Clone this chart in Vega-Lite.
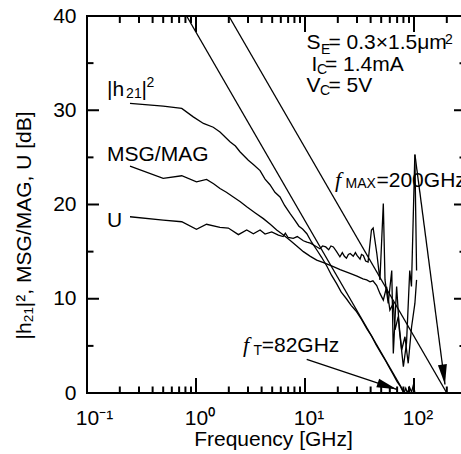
{
"$schema": "https://vega.github.io/schema/vega-lite/v6.json",
"width": 379, "height": 377,
"autosize": "none",
"padding": {"left": 87, "top": 16, "right": -5, "bottom": 61},
"background": "white",
"config": {
  "view": {"stroke": "black", "strokeWidth": 2},
  "axis": {"grid": false, "domain": false, "labelFont": "Liberation Sans", "labelFontSize": 21, "labelColor": "black", "titleFont": "Liberation Sans", "titleFontSize": 21, "titleFontWeight": "normal", "titleColor": "black"}
},
"datasets": {
  "curves": [
    {"s":"h21","f":0.248,"db":30.72},{"s":"h21","f":0.5,"db":30.43},{"s":"h21","f":0.74,"db":30.19},{"s":"h21","f":0.944,"db":29.3},{"s":"h21","f":1.17,"db":28.6},{"s":"h21","f":1.44,"db":28.2},{"s":"h21","f":1.66,"db":27.7},{"s":"h21","f":2.05,"db":26.65},{"s":"h21","f":2.3,"db":26.2},{"s":"h21","f":2.53,"db":25.6},{"s":"h21","f":3.02,"db":24.7},{"s":"h21","f":3.4,"db":24.2},{"s":"h21","f":3.87,"db":23.6},{"s":"h21","f":4.3,"db":22.7},{"s":"h21","f":4.77,"db":22.1},{"s":"h21","f":5.3,"db":21.3},{"s":"h21","f":5.9,"db":20.8},{"s":"h21","f":6.5,"db":19.9},{"s":"h21","f":7.28,"db":19.05},{"s":"h21","f":8.0,"db":18.4},{"s":"h21","f":8.8,"db":17.7},{"s":"h21","f":9.5,"db":17.4},{"s":"h21","f":10.4,"db":16.9},{"s":"h21","f":11.5,"db":16.0},{"s":"h21","f":12.8,"db":15.2},{"s":"h21","f":14.2,"db":14.4},{"s":"h21","f":15.8,"db":13.5},{"s":"h21","f":17.5,"db":12.5},{"s":"h21","f":19.5,"db":11.6},{"s":"h21","f":21.5,"db":10.7},{"s":"h21","f":24,"db":10.0},{"s":"h21","f":26.5,"db":9.3},{"s":"h21","f":29.4,"db":8.7},{"s":"h21","f":33,"db":7.8},{"s":"h21","f":37,"db":6.8},{"s":"h21","f":41,"db":6.0},{"s":"h21","f":45,"db":5.1},{"s":"h21","f":50,"db":4.2},{"s":"h21","f":55,"db":3.4},{"s":"h21","f":60,"db":2.6},{"s":"h21","f":65,"db":1.9},{"s":"h21","f":70,"db":1.2},{"s":"h21","f":75,"db":0.7},{"s":"h21","f":78,"db":0.3},{"s":"h21","f":81,"db":0.0},{"s":"h21","f":84,"db":0.5},{"s":"h21","f":87,"db":0.0},{"s":"h21","f":91,"db":0.6},{"s":"h21","f":95,"db":0.1},{"s":"h21","f":99,"db":0.9},{"s":"h21","f":102,"db":0.0},
    {"s":"msg","f":0.248,"db":24.07},{"s":"msg","f":0.5,"db":22.77},{"s":"msg","f":0.74,"db":23.05},{"s":"msg","f":1.01,"db":22.4},{"s":"msg","f":1.25,"db":22.66},{"s":"msg","f":1.45,"db":22.2},{"s":"msg","f":1.66,"db":21.7},{"s":"msg","f":1.9,"db":21.3},{"s":"msg","f":2.2,"db":20.8},{"s":"msg","f":2.55,"db":20.3},{"s":"msg","f":2.92,"db":19.76},{"s":"msg","f":3.5,"db":19.1},{"s":"msg","f":4.15,"db":18.5},{"s":"msg","f":4.8,"db":17.9},{"s":"msg","f":5.5,"db":17.3},{"s":"msg","f":6.3,"db":16.8},{"s":"msg","f":7.28,"db":16.2},{"s":"msg","f":8.4,"db":15.6},{"s":"msg","f":9.66,"db":15.0},{"s":"msg","f":11.2,"db":14.5},{"s":"msg","f":12.8,"db":14.1},{"s":"msg","f":15,"db":13.8},{"s":"msg","f":18.2,"db":13.4},{"s":"msg","f":21,"db":13.1},{"s":"msg","f":25.9,"db":12.7},{"s":"msg","f":30,"db":12.4},{"s":"msg","f":34,"db":12.1},{"s":"msg","f":36.8,"db":12.0},{"s":"msg","f":39.5,"db":11.8},{"s":"msg","f":42,"db":11.9},{"s":"msg","f":45.5,"db":11.4},{"s":"msg","f":48.7,"db":10.57},{"s":"msg","f":52.3,"db":9.86},{"s":"msg","f":56.1,"db":11.27},{"s":"msg","f":60.1,"db":8.8},{"s":"msg","f":64.6,"db":9.5},{"s":"msg","f":67,"db":6.7},{"s":"msg","f":71.7,"db":8.1},{"s":"msg","f":77.1,"db":4.56},{"s":"msg","f":82.6,"db":5.97},{"s":"msg","f":88.5,"db":3.15},{"s":"msg","f":95,"db":7.0},{"s":"msg","f":101.9,"db":9.5},{"s":"msg","f":105.6,"db":12.0},
    {"s":"u","f":0.248,"db":18.7},{"s":"u","f":0.5,"db":18.35},{"s":"u","f":0.74,"db":18.17},{"s":"u","f":1.01,"db":17.36},{"s":"u","f":1.25,"db":17.9},{"s":"u","f":1.66,"db":17.57},{"s":"u","f":1.98,"db":17.5},{"s":"u","f":2.45,"db":16.8},{"s":"u","f":2.92,"db":17.3},{"s":"u","f":3.36,"db":16.9},{"s":"u","f":3.87,"db":17.3},{"s":"u","f":4.3,"db":16.86},{"s":"u","f":4.95,"db":17.1},{"s":"u","f":5.7,"db":16.75},{"s":"u","f":6.3,"db":16.6},{"s":"u","f":6.6,"db":16.95},{"s":"u","f":7.0,"db":16.5},{"s":"u","f":7.8,"db":16.4},{"s":"u","f":8.5,"db":16.6},{"s":"u","f":9.66,"db":16.15},{"s":"u","f":10.4,"db":16.0},{"s":"u","f":11.2,"db":15.9},{"s":"u","f":12.0,"db":15.7},{"s":"u","f":13.7,"db":15.3},{"s":"u","f":14.5,"db":15.6},{"s":"u","f":15.5,"db":15.5},{"s":"u","f":16.5,"db":15.2},{"s":"u","f":17.3,"db":15.6},{"s":"u","f":18.2,"db":15.5},{"s":"u","f":19.5,"db":15.0},{"s":"u","f":20.9,"db":14.45},{"s":"u","f":22,"db":14.9},{"s":"u","f":23,"db":14.5},{"s":"u","f":24,"db":14.3},{"s":"u","f":25,"db":14.7},{"s":"u","f":26,"db":14.8},{"s":"u","f":27.7,"db":14.5},{"s":"u","f":29,"db":14.9},{"s":"u","f":30,"db":14.6},{"s":"u","f":32,"db":14.2},{"s":"u","f":33,"db":14.7},{"s":"u","f":34.3,"db":14.6},{"s":"u","f":36,"db":14.0},{"s":"u","f":37.9,"db":13.9},{"s":"u","f":40.7,"db":17.3},{"s":"u","f":42.2,"db":17.5},{"s":"u","f":45.6,"db":14.8},{"s":"u","f":48.7,"db":12.0},{"s":"u","f":52.3,"db":20.1},{"s":"u","f":54.2,"db":12.0},{"s":"u","f":58,"db":9.5},{"s":"u","f":62.5,"db":13.0},{"s":"u","f":64.6,"db":4.2},{"s":"u","f":69.3,"db":11.3},{"s":"u","f":73.4,"db":6.7},{"s":"u","f":79.9,"db":2.8},{"s":"u","f":85.4,"db":5.3},{"s":"u","f":91.4,"db":13.0},{"s":"u","f":94.8,"db":11.3},{"s":"u","f":101.8,"db":25.3},{"s":"u","f":105.6,"db":13.0},
    {"s":"ft","f":0.82,"db":40},{"s":"ft","f":82,"db":0},
    {"s":"fmax","f":2.0,"db":40},{"s":"fmax","f":200,"db":0}
  ],
  "arrows": [
    {"a":"ft","f":10.37,"db":3.57,"f2":69.4,"db2":0.39},
    {"a":"fmax","f":102,"db":25.3,"f2":192.4,"db2":0.9}
  ],
  "ticks": [
    {"ax":"x","v":0.1,"m":1},{"ax":"x","v":1,"m":1},{"ax":"x","v":10,"m":1},{"ax":"x","v":100,"m":1},
    {"ax":"x","v":0.2,"m":0},{"ax":"x","v":0.3,"m":0},{"ax":"x","v":0.4,"m":0},{"ax":"x","v":0.5,"m":0},{"ax":"x","v":0.6,"m":0},{"ax":"x","v":0.7,"m":0},{"ax":"x","v":0.8,"m":0},{"ax":"x","v":0.9,"m":0},
    {"ax":"x","v":2,"m":0},{"ax":"x","v":3,"m":0},{"ax":"x","v":4,"m":0},{"ax":"x","v":5,"m":0},{"ax":"x","v":6,"m":0},{"ax":"x","v":7,"m":0},{"ax":"x","v":8,"m":0},{"ax":"x","v":9,"m":0},
    {"ax":"x","v":20,"m":0},{"ax":"x","v":30,"m":0},{"ax":"x","v":40,"m":0},{"ax":"x","v":50,"m":0},{"ax":"x","v":60,"m":0},{"ax":"x","v":70,"m":0},{"ax":"x","v":80,"m":0},{"ax":"x","v":90,"m":0},
    {"ax":"x","v":200,"m":0},
    {"ax":"y","v":10,"m":1},{"ax":"y","v":20,"m":1},{"ax":"y","v":30,"m":1},
    {"ax":"y","v":5,"m":0},{"ax":"y","v":15,"m":0},{"ax":"y","v":25,"m":0},{"ax":"y","v":35,"m":0}
  ],
  "notes": [
    {"k":"main","t":"|h","f":0.1526,"db":31.53},
    {"k":"sub","t":"21","f":0.2285,"db":31.28},
    {"k":"main","t":"|","f":0.3160,"db":31.53},
    {"k":"sup","t":"2","f":0.3520,"db":32.45},
    {"k":"main","t":"MSG/MAG","f":0.1526,"db":24.63},
    {"k":"main","t":"U","f":0.1526,"db":17.64},
    {"k":"main","t":"S","f":10.32,"db":36.45},
    {"k":"sub","t":"E","f":14.03,"db":36.02},
    {"k":"main","t":"= 0.3×1.5μm","f":16.43,"db":36.45},
    {"k":"sup","t":"2","f":192.5,"db":37.06},
    {"k":"main","t":"I","f":11.47,"db":34.18},
    {"k":"sub","t":"C","f":12.89,"db":33.83},
    {"k":"main","t":"= 1.4mA","f":15.26,"db":34.18},
    {"k":"main","t":"V","f":10.32,"db":31.95},
    {"k":"sub","t":"C","f":13.73,"db":31.6},
    {"k":"main","t":"= 5V","f":16.43,"db":31.95},
    {"k":"ital","t":"f","f":18.85,"db":21.81},
    {"k":"sub","t":"MAX","f":23.53,"db":21.71},
    {"k":"main","t":"=200GHz","f":45.29,"db":21.81},
    {"k":"ital","t":"f","f":2.699,"db":4.38},
    {"k":"sub","t":"T","f":3.37,"db":4.03},
    {"k":"main","t":"=82GHz","f":4.007,"db":4.38}
  ]
},
"resolve": {"axis": {"x": "independent", "y": "independent"}},
"layer": [
  {
    "data": {"name": "curves"},
    "mark": {"type": "line", "color": "black", "strokeWidth": 1.3, "clip": true},
    "encoding": {
      "x": {"field": "f", "type": "quantitative", "scale": {"type": "log", "domain": [0.1, 300], "nice": false},
        "axis": {"orient": "bottom", "values": [0.1, 1, 10, 100], "ticks": false,
          "labelExpr": "datum.value == 0.1 ? '10⁻¹' : datum.value == 1 ? '10⁰' : datum.value == 10 ? '10¹' : '10²'",
          "labelAlign": "left", "labelOffset": -11.7, "labelBaseline": "alphabetic", "labelPadding": 31.5,
          "labelFlush": false, "labelOverlap": false, "labelBound": false,
          "title": "Frequency [GHz]", "titleBaseline": "alphabetic", "titleAlign": "center", "titleX": 186, "titleY": 52.5}},
      "y": {"field": "db", "type": "quantitative", "scale": {"domain": [0, 40], "nice": false},
        "axis": {"orient": "left", "values": [0, 10, 20, 30, 40], "ticks": false, "labelPadding": 11, "labelBaseline": "middle",
          "title": "|h₂₁|², MSG/MAG, U [dB]", "titleAngle": -90, "titleBaseline": "alphabetic", "titleAlign": "center", "titleX": -56.5, "titleY": 209}},
      "detail": {"field": "s"}
    }
  },
  {
    "data": {"name": "ticks"},
    "transform": [{"filter": "datum.ax == 'x' && datum.m == 1"}],
    "mark": {"type": "rule", "color": "black", "strokeWidth": 2},
    "encoding": {
      "x": {"field": "v", "type": "quantitative", "axis": null},
      "y": {"datum": 0, "type": "quantitative", "axis": null},
      "y2": {"datum": 1.59}
    }
  },
  {
    "data": {"name": "ticks"},
    "transform": [{"filter": "datum.ax == 'x' && datum.m == 0"}],
    "mark": {"type": "rule", "color": "black", "strokeWidth": 2},
    "encoding": {
      "x": {"field": "v", "type": "quantitative", "axis": null},
      "y": {"datum": 0, "type": "quantitative", "axis": null},
      "y2": {"datum": 0.69}
    }
  },
  {
    "data": {"name": "ticks"},
    "transform": [{"filter": "datum.ax == 'x' && datum.m == 1"}],
    "mark": {"type": "rule", "color": "black", "strokeWidth": 2},
    "encoding": {
      "x": {"field": "v", "type": "quantitative", "axis": null},
      "y": {"datum": 40, "type": "quantitative", "axis": null},
      "y2": {"datum": 38.3}
    }
  },
  {
    "data": {"name": "ticks"},
    "transform": [{"filter": "datum.ax == 'x' && datum.m == 0"}],
    "mark": {"type": "rule", "color": "black", "strokeWidth": 2},
    "encoding": {
      "x": {"field": "v", "type": "quantitative", "axis": null},
      "y": {"datum": 40, "type": "quantitative", "axis": null},
      "y2": {"datum": 39.26}
    }
  },
  {
    "data": {"name": "ticks"},
    "transform": [{"filter": "datum.ax == 'y' && datum.m == 1"}],
    "mark": {"type": "rule", "color": "black", "strokeWidth": 2},
    "encoding": {
      "y": {"field": "v", "type": "quantitative", "axis": null},
      "x": {"datum": 0.1, "type": "quantitative", "axis": null},
      "x2": {"datum": 0.1288}
    }
  },
  {
    "data": {"name": "ticks"},
    "transform": [{"filter": "datum.ax == 'y' && datum.m == 0"}],
    "mark": {"type": "rule", "color": "black", "strokeWidth": 2},
    "encoding": {
      "y": {"field": "v", "type": "quantitative", "axis": null},
      "x": {"datum": 0.1, "type": "quantitative", "axis": null},
      "x2": {"datum": 0.1147}
    }
  },
  {
    "data": {"name": "ticks"},
    "transform": [{"filter": "datum.ax == 'y' && datum.m == 1"}],
    "mark": {"type": "rule", "color": "black", "strokeWidth": 2},
    "encoding": {
      "y": {"field": "v", "type": "quantitative", "axis": null},
      "x": {"datum": 300, "type": "quantitative", "axis": null},
      "x2": {"datum": 232.8}
    }
  },
  {
    "data": {"name": "ticks"},
    "transform": [{"filter": "datum.ax == 'y' && datum.m == 0"}],
    "mark": {"type": "rule", "color": "black", "strokeWidth": 2},
    "encoding": {
      "y": {"field": "v", "type": "quantitative", "axis": null},
      "x": {"datum": 300, "type": "quantitative", "axis": null},
      "x2": {"datum": 261.5}
    }
  },
  {
    "data": {"name": "arrows"},
    "mark": {"type": "rule", "color": "black", "strokeWidth": 1.3},
    "encoding": {
      "x": {"field": "f", "type": "quantitative", "axis": null},
      "y": {"field": "db", "type": "quantitative", "axis": null},
      "x2": {"field": "f2"},
      "y2": {"field": "db2"}
    }
  },
  {
    "data": {"name": "arrows"},
    "transform": [{"filter": "datum.a == 'ft'"}],
    "mark": {"type": "point", "shape": "M0,0L-0.36,1.6L0.36,1.6Z", "size": 625, "angle": 108.4, "filled": true, "color": "black", "opacity": 1},
    "encoding": {
      "x": {"field": "f2", "type": "quantitative", "axis": null},
      "y": {"field": "db2", "type": "quantitative", "axis": null}
    }
  },
  {
    "data": {"name": "arrows"},
    "transform": [{"filter": "datum.a == 'fmax'"}],
    "mark": {"type": "point", "shape": "M0,0L-0.36,1.6L0.36,1.6Z", "size": 625, "angle": 172.6, "filled": true, "color": "black", "opacity": 1},
    "encoding": {
      "x": {"field": "f2", "type": "quantitative", "axis": null},
      "y": {"field": "db2", "type": "quantitative", "axis": null}
    }
  },
  {
    "data": {"name": "notes"},
    "transform": [{"filter": "datum.k == 'main'"}],
    "mark": {"type": "text", "font": "Liberation Sans", "fontSize": 21, "align": "left", "baseline": "alphabetic", "color": "black"},
    "encoding": {
      "x": {"field": "f", "type": "quantitative", "axis": null},
      "y": {"field": "db", "type": "quantitative", "axis": null},
      "text": {"field": "t"}
    }
  },
  {
    "data": {"name": "notes"},
    "transform": [{"filter": "datum.k == 'sub' || datum.k == 'sup'"}],
    "mark": {"type": "text", "font": "Liberation Sans", "fontSize": 14, "align": "left", "baseline": "alphabetic", "color": "black"},
    "encoding": {
      "x": {"field": "f", "type": "quantitative", "axis": null},
      "y": {"field": "db", "type": "quantitative", "axis": null},
      "text": {"field": "t"}
    }
  },
  {
    "data": {"name": "notes"},
    "transform": [{"filter": "datum.k == 'ital'"}],
    "mark": {"type": "text", "font": "Liberation Serif", "fontStyle": "italic", "fontSize": 22, "align": "left", "baseline": "alphabetic", "color": "black"},
    "encoding": {
      "x": {"field": "f", "type": "quantitative", "axis": null},
      "y": {"field": "db", "type": "quantitative", "axis": null},
      "text": {"field": "t"}
    }
  }
]
}
